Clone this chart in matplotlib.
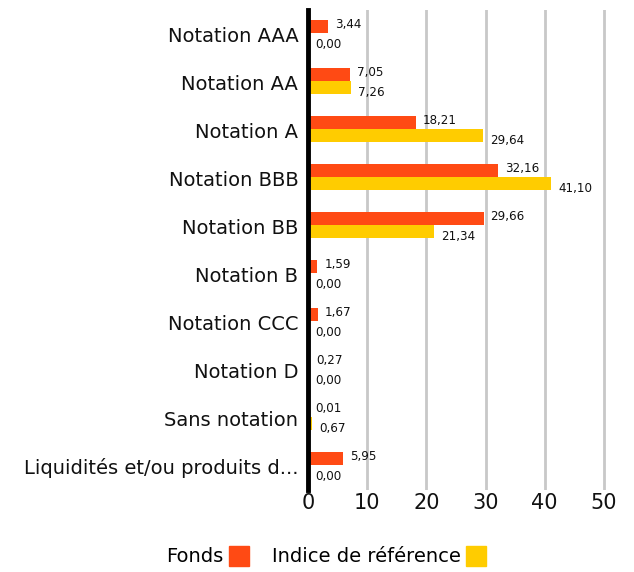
import matplotlib
matplotlib.use("Agg")
import matplotlib.pyplot as plt
import numpy as np
from matplotlib.lines import Line2D

categories = ["Notation AAA", "Notation AA", "Notation A", "Notation BBB", "Notation BB",
              "Notation B", "Notation CCC", "Notation D", "Sans notation",
              "Liquidités et/ou produits d..."]
fonds = [3.44, 7.05, 18.21, 32.16, 29.66, 1.59, 1.67, 0.27, 0.01, 5.95]
indice = [0.00, 7.26, 29.64, 41.10, 21.34, 0.00, 0.00, 0.00, 0.67, 0.00]
xticks = [0, 10, 20, 30, 40, 50]
series_names = ["Fonds", "Indice de référence"]

c_fonds = "#FF4A14"
c_ind = "#FFCC00"

plt.rcParams['font.family'] = ['DejaVu Sans']
fig = plt.figure(figsize=(6.34, 5.72), dpi=100)
ax = fig.add_axes([308/634, 1-490/572, 300/634, 480/572])

y = np.arange(len(categories))
h = 0.27
ax.barh(y - h/2 - 0.02, fonds, height=h, color=c_fonds, zorder=3)
ax.barh(y + h/2 - 0.02, indice, height=h, color=c_ind, zorder=3)

for i in range(len(categories)):
    ax.annotate(f"{fonds[i]:.2f}".replace(".", ","), (fonds[i], y[i] - h/2 - 0.06),
                xytext=(5, 0), textcoords="offset points", va="center", ha="left",
                fontsize=8.6, color="#111111")
    ax.annotate(f"{indice[i]:.2f}".replace(".", ","), (indice[i], y[i] + h/2 + 0.08),
                xytext=(5, 0), textcoords="offset points", va="center", ha="left",
                fontsize=8.6, color="#111111")

ax.set_ylim(len(categories) - 0.5, -0.5)
ax.set_xlim(0, 50.7)
ax.set_yticks(y)
ax.set_yticklabels(categories, fontsize=14, color="#111111")
ax.set_xticks(xticks)
ax.set_xticklabels([str(t) for t in xticks], fontsize=15, color="#111111")
ax.tick_params(axis="both", length=0)
ax.tick_params(axis="y", pad=7)
ax.tick_params(axis="x", pad=2)
for s in ["top", "right", "bottom"]:
    ax.spines[s].set_visible(False)
ax.spines["left"].set_linewidth(3.5)
ax.spines["left"].set_color("black")
ax.spines["left"].set_zorder(5)
ax.grid(axis="x", color="#c8c8c8", linewidth=2, zorder=0)
ax.set_axisbelow(True)

handles = [Line2D([], [], marker="s", linestyle="none", markersize=15, color=c_fonds),
           Line2D([], [], marker="s", linestyle="none", markersize=15, color=c_ind)]
fig.legend(handles, series_names, loc="center", bbox_to_anchor=(326/634, 1-557/572),
           ncol=2, frameon=False, markerfirst=False, fontsize=14, handletextpad=0.3,
           columnspacing=1.2, handlelength=1.0)

fig.savefig("out.png", dpi=100)
